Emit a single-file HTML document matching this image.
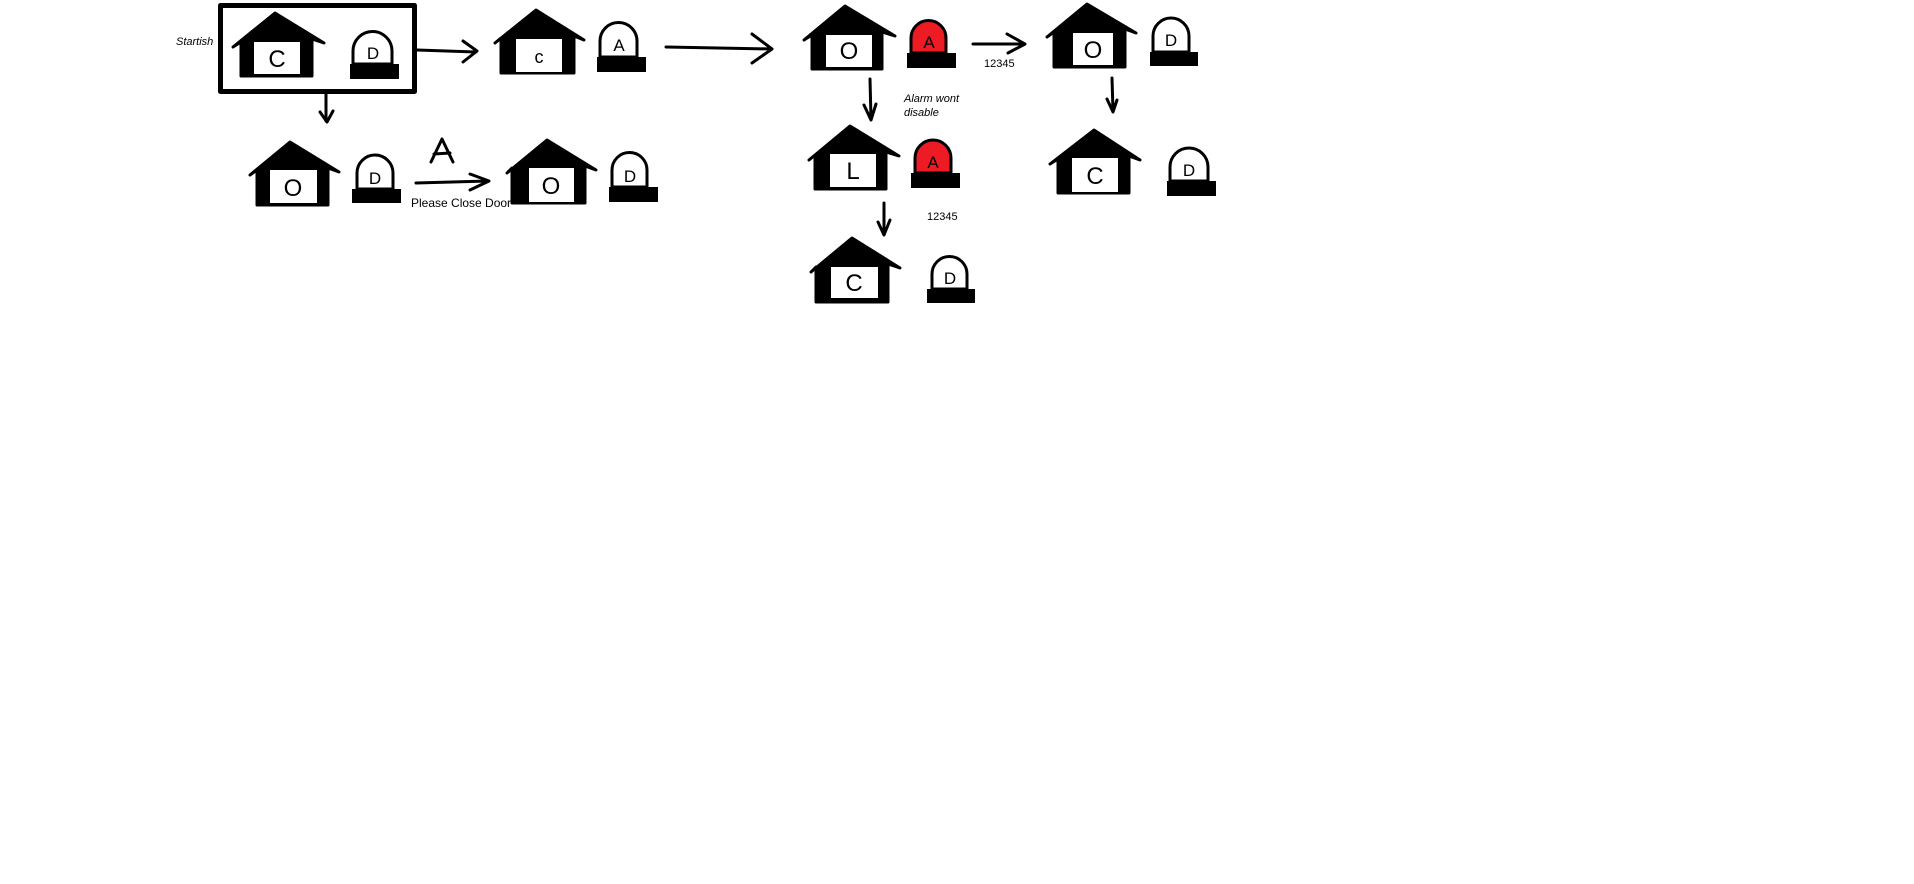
<!DOCTYPE html>
<html><head><meta charset="utf-8"><style>
html,body{margin:0;padding:0;background:#fff;}
svg{display:block;}
text{font-family:"Liberation Sans",sans-serif;}
</style></head><body>
<svg width="1914" height="884" viewBox="0 0 1914 884" xmlns="http://www.w3.org/2000/svg">
<rect width="1914" height="884" fill="#fff"/>
<g stroke="#000" stroke-width="3" stroke-linejoin="round" stroke-linecap="round">
<rect x="220.5" y="5.5" width="194" height="86" fill="none" stroke-width="5"/>
<polygon points="233,47 275,13 324,43 312,39 312,76 241,76 241,42" fill="#000"/>
<polygon points="495,43 536,10 584,40 574,36 574,73 501,73 501,38" fill="#000"/>
<polygon points="250,175 290,142 339,172 328,168 328,205 257,205 257,170" fill="#000"/>
<polygon points="507,173 547,140 596,170 585,166 585,203 512,203 512,168" fill="#000"/>
<polygon points="804,40 845,6 895,36 882,32 882,69 812,69 812,35" fill="#000"/>
<polygon points="1047,37 1087,4 1136,33 1125,29 1125,67 1054,67 1054,32" fill="#000"/>
<polygon points="809,160 850,126 899,156 886,152 886,189 815,189 815,155" fill="#000"/>
<polygon points="811,272 852,238 900,268 888,264 888,302 816,302 816,267" fill="#000"/>
<polygon points="1050,164 1094,130 1140,160 1129,156 1129,193 1058,193 1058,159" fill="#000"/>
</g>
<g fill="#fff" stroke="none">
<rect x="254" y="42" width="46" height="32"/>
<rect x="516" y="39" width="46" height="33"/>
<rect x="270" y="170" width="47" height="33"/>
<rect x="529" y="168" width="45" height="34"/>
<rect x="826" y="35" width="46" height="32"/>
<rect x="1073" y="33" width="40" height="32"/>
<rect x="830" y="154" width="46" height="33"/>
<rect x="831" y="267" width="47" height="31"/>
<rect x="1072" y="158" width="46" height="34"/>
</g>
<g font-size="24" text-anchor="middle" fill="#000">
<text x="277" y="67">C</text>
<text x="539" y="63" font-size="18">c</text>
<text x="293" y="196">O</text>
<text x="551" y="194">O</text>
<text x="849" y="59">O</text>
<text x="1093" y="58">O</text>
<text x="853" y="179">L</text>
<text x="854" y="291">C</text>
<text x="1095" y="184">C</text>
</g>
<g stroke="#000" stroke-width="3" stroke-linejoin="round">
<path d="M353,64 L353,51 A19.5,19.5 0 0 1 392,51 L392,64 Z" fill="#fff"/>
<path d="M600,57 L600,41 A18.5,18.5 0 0 1 637,41 L637,57 Z" fill="#fff"/>
<path d="M357,189 L357,173 A18,18 0 0 1 393,173 L393,189 Z" fill="#fff"/>
<path d="M612,187 L612,170 A17.5,17.5 0 0 1 647,170 L647,187 Z" fill="#fff"/>
<path d="M911,53 L911,38 A17.5,17.5 0 0 1 946,38 L946,53 Z" fill="#ed1c24"/>
<path d="M1153,52 L1153,36 A18,18 0 0 1 1189,36 L1189,52 Z" fill="#fff"/>
<path d="M915,173 L915,158 A18,18 0 0 1 951,158 L951,173 Z" fill="#ed1c24"/>
<path d="M932,289 L932,274 A17.5,17.5 0 0 1 967,274 L967,289 Z" fill="#fff"/>
<path d="M1170,181 L1170,167 A19,19 0 0 1 1208,167 L1208,181 Z" fill="#fff"/>
</g>
<g fill="#000">
<rect x="350" y="64" width="49" height="15"/>
<rect x="597" y="57" width="49" height="15"/>
<rect x="352" y="189" width="49" height="14"/>
<rect x="609" y="187" width="49" height="15"/>
<rect x="907" y="53" width="49" height="15"/>
<rect x="1150" y="52" width="48" height="14"/>
<rect x="911" y="173" width="49" height="15"/>
<rect x="927" y="289" width="48" height="14"/>
<rect x="1167" y="181" width="49" height="15"/>
</g>
<g font-size="17" text-anchor="middle" fill="#000">
<text x="373" y="59">D</text>
<text x="619" y="51">A</text>
<text x="375" y="184">D</text>
<text x="630" y="182">D</text>
<text x="929" y="48">A</text>
<text x="1171" y="46">D</text>
<text x="933" y="168">A</text>
<text x="950" y="284">D</text>
<text x="1189" y="176">D</text>
</g>
<g stroke="#000" stroke-width="3" fill="none" stroke-linecap="round" stroke-linejoin="round">
<path d="M417,50 L476,52 M463,41 L477,51 L463,62"/>
<path d="M326,94 L326,121 M320,112 L327,122 L333,111"/>
<path d="M416,183 L488,181 M470,174 L489,181 L470,190"/>
<path d="M666,47 L772,49 M752,34 L772,49 L752,63"/>
<path d="M973,44 L1024,44 M1007,34 L1025,44 L1008,53"/>
<path d="M870,79 L871,119 M864,105 L871,120 L876,104"/>
<path d="M884,203 L884,234 M878,222 L884,235 L890,220"/>
<path d="M1112,78 L1113,111 M1107,99 L1113,112 L1117,100"/>
<path d="M431,162 L442,139 L453,162 M434,154 L450,153"/>
</g>
<g fill="#000">
<text x="176" y="45" font-size="11" font-style="italic">Startish</text>
<text x="411" y="207" font-size="12">Please Close Door</text>
<text x="984" y="67" font-size="11">12345</text>
<text x="927" y="220" font-size="11">12345</text>
<text x="904" y="102" font-size="11" font-style="italic">Alarm wont</text>
<text x="904" y="116" font-size="11" font-style="italic">disable</text>
</g>
</svg>
</body></html>
